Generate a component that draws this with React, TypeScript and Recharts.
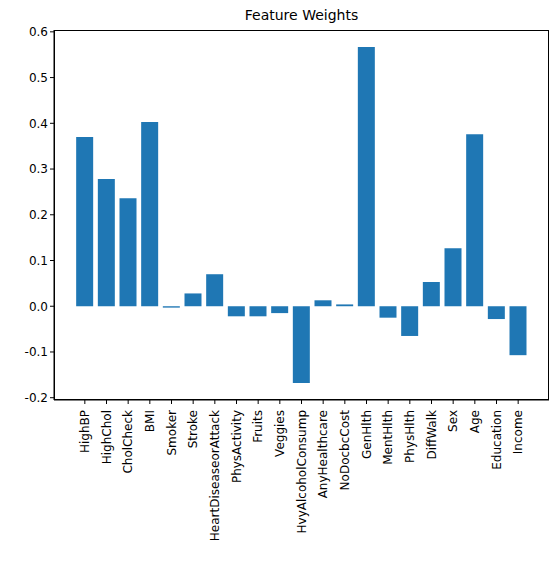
import React from "react";
import { BarChart, Bar, XAxis, YAxis } from "recharts";

const features = ["HighBP","HighChol","CholCheck","BMI","Smoker","Stroke","HeartDiseaseorAttack","PhysActivity","Fruits","Veggies","HvyAlcoholConsump","AnyHealthcare","NoDocbcCost","GenHlth","MentHlth","PhysHlth","DiffWalk","Sex","Age","Education","Income"];
const weights = [0.37,0.278,0.236,0.403,-0.003,0.028,0.07,-0.022,-0.022,-0.015,-0.168,0.013,0.004,0.567,-0.025,-0.065,0.053,0.127,0.376,-0.028,-0.107];
const yTicks = [-0.2,-0.1,0,0.1,0.2,0.3,0.4,0.5,0.6];

const data = features.map((name, i) => ({ name, value: weights[i] }));
const font = "DejaVu Sans";

const XTick = (props: any) => {
  const { x, y, payload } = props;
  return (
    <text x={x} y={y + 4} transform={`rotate(-90 ${x} ${y + 4})`} textAnchor="end" dominantBaseline="central" fontSize={12} fontFamily={font} fill="#000">
      {payload.value}
    </text>
  );
};

export default function App() {
  return (
    <div style={{ position: "fixed", left: 0, top: 0, width: 559, height: 571, background: "#fff" }}>
      <div style={{ position: "absolute", left: 54, width: 495, top: 7, textAlign: "center", fontFamily: font, fontSize: 14 }}>Feature Weights</div>
      <BarChart width={559} height={571} data={data} margin={{ top: 30, right: 10, bottom: 0, left: 0 }} barCategoryGap="10%">
        <XAxis dataKey="name" interval={0} tick={<XTick />} height={171} padding={{ left: 20, right: 20 }} stroke="#000" tickSize={4} />
        <YAxis domain={[-0.205, 0.604]} ticks={yTicks} width={54} stroke="#000" tickSize={4}
          tick={{ fontSize: 12, fontFamily: font, fill: "#000" }} tickFormatter={(v: number) => v.toFixed(1)} />
        <Bar dataKey="value" fill="#1f77b4" isAnimationActive={false} />
      </BarChart>
      <div style={{ position: "absolute", left: 54, top: 30, width: 495, height: 370, border: "1px solid #000", boxSizing: "border-box", pointerEvents: "none" }} />
    </div>
  );
}
